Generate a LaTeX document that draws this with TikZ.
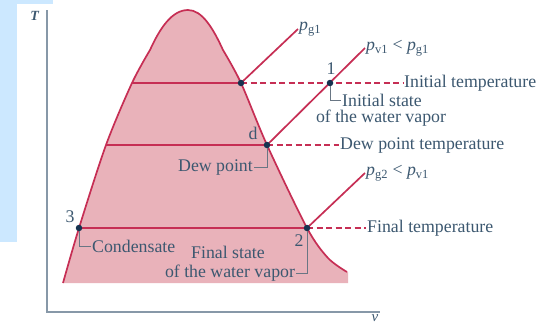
\documentclass[tikz,border=0pt]{standalone}
\usepackage{fontspec}
\setmainfont{Liberation Serif}
\definecolor{bgblue}{RGB}{204,232,255}
\definecolor{domefill}{RGB}{233,178,186}
\definecolor{domeline}{RGB}{198,46,84}
\definecolor{statedot}{RGB}{22,50,80}
\definecolor{labeltext}{RGB}{60,88,112}
\definecolor{axisgray}{RGB}{135,152,168}
\definecolor{leadergray}{RGB}{105,118,132}

\begin{document}
\begin{tikzpicture}[x=1pt, y=-1pt,
    every node/.style={font=\fontsize{17.8}{19}\selectfont, text=labeltext, inner sep=1pt},
    curve/.style={domeline, line width=1.7pt},
    isotherm/.style={domeline, line width=2.3pt},
    isodash/.style={domeline, line width=1.8pt, dash pattern=on 6pt off 3.5pt},
    leader/.style={leadergray, line width=0.8pt},
    statept/.style={circle, fill=statedot, inner sep=0pt, minimum size=6.5pt}]
    % Background panels
    \useasboundingbox (0,0) rectangle (541,325);
    \fill[bgblue] (0,0) rectangle (53,242);
    \fill[white] (17,4) rectangle (541,325);

    % Vapor dome
    \fill[domefill] plot[smooth, tension=0.5] coordinates {(63,283) (79,228) (106,145) (132,83) (150,50)}
        .. controls (160,28) and (172,10) .. (188,10) .. controls (202,10) and (213,28) .. (223,50)
        -- plot[smooth, tension=0.5] coordinates {(223,50) (241,83) (267,145) (307,228) (328,258) (347,272)}
        -- (348,272) -- (348,283) -- cycle;
    \draw[curve] plot[smooth, tension=0.5] coordinates {(63,283) (79,228) (106,145) (132,83) (150,50)}
        .. controls (160,28) and (172,10) .. (188,10) .. controls (202,10) and (213,28) .. (223,50)
        -- plot[smooth, tension=0.5] coordinates {(223,50) (241,83) (267,145) (307,228) (328,258) (347,272)};

    % Axes
    \coordinate (origin) at (47,312);
    \coordinate (Ttop) at (47,10);
    \coordinate (vend) at (380,312);
    \draw[axisgray, line width=1.6pt] (Ttop) -- (origin) -- (vend);
    \node[font=\fontsize{14}{16}\selectfont\bfseries] (Tlab) at (35,16) {\textit{T}};
    \node[font=\fontsize{15}{16}\selectfont, inner sep=0pt] (vlab) at (375,318) {\textit{v}};

    % States
    \coordinate (f1) at (132,83);
    \coordinate (g1) at (241,83);
    \coordinate (s1) at (330,83);
    \coordinate (fd) at (106,145);
    \coordinate (d) at (267,145);
    \coordinate (s2) at (307,228);
    \coordinate (s3) at (79,228);
    \coordinate (pg1end) at (298,29);
    \coordinate (pv1end) at (365,48);
    \coordinate (pg2end) at (365,173);

    % Temperature labels
    \node[anchor=west] (initT) at (403,83) {Initial temperature};
    \node[anchor=west] (dewT) at (339,145) {Dew point temperature};
    \node[anchor=west] (finT) at (366,228) {Final temperature};

    % Isotherms
    \draw[isotherm] (f1) -- (g1);
    \draw[isotherm] (fd) -- (d);
    \draw[isotherm] (s3) -- (s2);
    \draw[isodash] (g1) -- (initT.west);
    \draw[isodash] (d) -- (dewT.west);
    \draw[isodash] (s2) -- (finT.west);

    % Constant pressure lines
    \draw[curve] (g1) -- (pg1end);
    \draw[curve] (d) -- (pv1end);
    \draw[curve] (s2) -- (pg2end);
    \node[anchor=west] (pg1) at (pg1end) {\textit{p}\textsubscript{g1}};
    \node[anchor=west] (pv1) at (pv1end) {\textit{p}\textsubscript{v1} < \textit{p}\textsubscript{g1}};
    \node[anchor=west] (pg2) at (pg2end) {\textit{p}\textsubscript{g2} < \textit{p}\textsubscript{v1}};

    % State points
    \node[statept] (g1dot) at (g1) {};
    \node[statept] (s1dot) at (s1) {};
    \node[statept] (ddot) at (d) {};
    \node[statept] (s2dot) at (s2) {};
    \node[statept] (s3dot) at (s3) {};
    \node (lab1) at (331,69) {1};
    \node (labd) at (253,133) {d};
    \node (lab2) at (299,241) {2};
    \node (lab3) at (70,217) {3};

    % Callouts
    \node[anchor=west] (initS) at (341,100) {Initial state};
    \node (initS2) at (381,118) {of the water vapor};
    \node[anchor=east] (dewP) at (254,167) {Dew point};
    \node[anchor=west] (cond) at (91,246) {Condensate};
    \node (finS) at (228,252) {Final state};
    \node (finS2) at (230,273) {of the water vapor};
    \draw[leader] (s1dot.south) |- (initS.west);
    \draw[leader] (ddot.south) |- (dewP.east);
    \draw[leader] (s3dot.south) |- (cond.west);
    \draw[leader] (s2dot.south) |- (finS2.east);
\end{tikzpicture}
\end{document}
